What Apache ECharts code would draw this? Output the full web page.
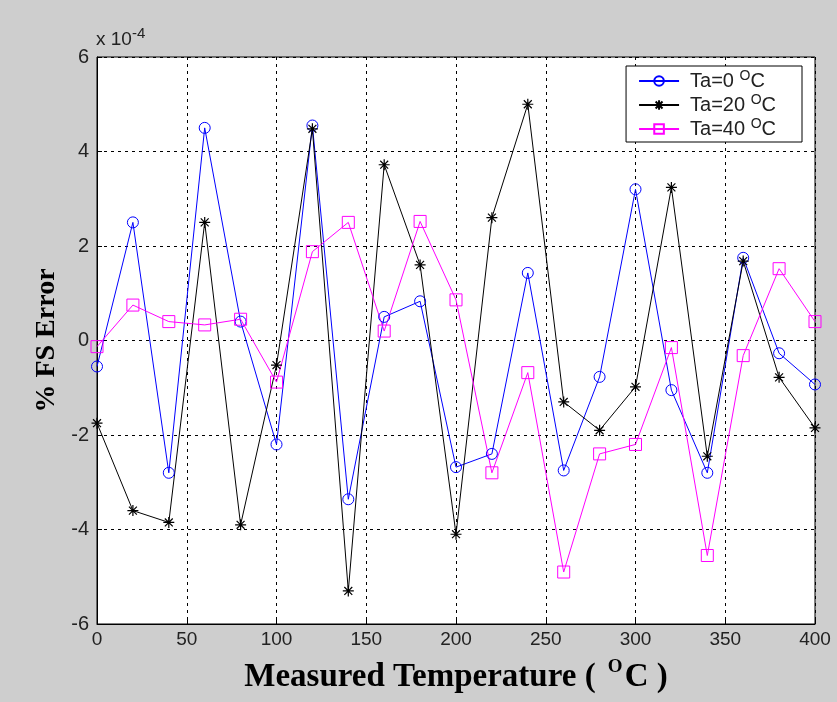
<!DOCTYPE html>
<html>
<head>
<meta charset="utf-8">
<script src="https://cdn.jsdelivr.net/npm/echarts@6/dist/echarts.min.js"></script>
<style>
  html, body { margin: 0; padding: 0; background: #cecece; }
  #chart { width: 837px; height: 702px; }
</style>
</head>
<body>
<div id="chart"></div>
<script>
// measured temperature (deg C)
var temps = [0, 20, 40, 60, 80, 100, 120, 140, 160, 180, 200, 220, 240, 260, 280, 300, 320, 340, 360, 380, 400];
// %FS error, in units of 1e-4
var ta0 = [-0.55, 2.5, -2.8, 4.5, 0.4, -2.2, 4.55, -3.36, 0.5, 0.83, -2.68, -2.4, 1.43, -2.75, -0.77, 3.2, -1.05, -2.8, 1.75, -0.27, -0.93];
var ta20 = [-1.75, -3.6, -3.85, 2.5, -3.9, -0.52, 4.48, -5.3, 3.72, 1.6, -4.1, 2.6, 5.0, -1.3, -1.9, -0.98, 3.24, -2.45, 1.68, -0.78, -1.85];
var ta40 = [-0.13, 0.75, 0.4, 0.33, 0.45, -0.88, 1.88, 2.5, 0.2, 2.52, 0.86, -2.8, -0.68, -4.9, -2.4, -2.2, -0.15, -4.55, -0.32, 1.52, 0.4];
var legendNames = ['Ta=0', 'Ta=20', 'Ta=40'];

var tickFont = "'Liberation Sans', Arial, sans-serif";
var titleFont = "'Liberation Serif', 'Times New Roman', serif";
var star = 'path://M0,-5L0,5M-5,0L5,0M-3.6,-3.6L3.6,3.6M-3.6,3.6L3.6,-3.6';

function pairs(vals) {
    return temps.map(function (t, i) { return [t, vals[i]]; });
}

var myChart = echarts.init(document.getElementById('chart'));
myChart.setOption({
    backgroundColor: '#cecece',
    animation: false,
    grid: {
        left: 97, right: 22, top: 57, bottom: 78,
        show: true, backgroundColor: '#ffffff', borderColor: '#000', borderWidth: 1
    },
    legend: {
        right: 35, top: 66,
        orient: 'vertical',
        backgroundColor: '#fff',
        borderColor: '#000', borderWidth: 1,
        padding: [3, 26, 3, 12],
        itemGap: 2,
        itemWidth: 40, itemHeight: 12,
        data: legendNames,
        formatter: function (name) { return '{a|' + name + ' }{s|O}{a|C}'; },
        textStyle: {
            padding: [0, 0, 0, 6],
            rich: {
                a: { fontFamily: tickFont, fontSize: 20, color: '#222', lineHeight: 22 },
                s: { fontFamily: tickFont, fontSize: 14, color: '#222', padding: [0, 0, 10, 0] }
            }
        }
    },
    xAxis: {
        type: 'value', min: 0, max: 400, interval: 50,
        name: '{a|Measured Temperature ( }{s|O}{a|C )}',
        nameLocation: 'middle', nameGap: 34,
        nameTextStyle: {
            rich: {
                a: { fontFamily: titleFont, fontWeight: 'bold', fontSize: 33, color: '#000' },
                s: { fontFamily: titleFont, fontWeight: 'bold', fontSize: 19, color: '#000', padding: [0, 2, 19, 4] }
            }
        },
        axisLine: { onZero: false, lineStyle: { color: '#000' } },
        axisTick: { inside: true, length: 5, lineStyle: { color: '#000' } },
        axisLabel: { fontFamily: tickFont, fontSize: 19, color: '#222', margin: 6 },
        splitLine: { show: true, lineStyle: { color: '#000', type: [3, 4] } }
    },
    yAxis: {
        type: 'value', min: -6, max: 6, interval: 2,
        name: '% FS Error',
        nameLocation: 'middle', nameGap: 34,
        nameTextStyle: { fontFamily: titleFont, fontWeight: 'bold', fontSize: 28, color: '#000' },
        axisLine: { onZero: false, lineStyle: { color: '#000' } },
        axisTick: { inside: true, length: 5, lineStyle: { color: '#000' } },
        axisLabel: { fontFamily: tickFont, fontSize: 20, color: '#222', margin: 8 },
        splitLine: { show: true, lineStyle: { color: '#000', type: [3, 4] } }
    },
    graphic: [{
        type: 'text', left: 96, top: 26,
        style: {
            text: '{a|x 10}{s|-4}',
            rich: {
                a: { fontFamily: tickFont, fontSize: 19, fill: '#222' },
                s: { fontFamily: tickFont, fontSize: 15, fill: '#222', padding: [0, 0, 12, 0] }
            }
        }
    }],
    series: [{
        name: 'Ta=0', type: 'line', data: pairs(ta0),
        symbol: 'circle', symbolSize: 11,
        itemStyle: { color: 'rgba(0,0,0,0)', borderColor: '#0000ff', borderWidth: 1 },
        lineStyle: { color: '#0000ff', width: 1 }
    }, {
        name: 'Ta=20', type: 'line', data: pairs(ta20),
        symbol: star, symbolSize: 11,
        itemStyle: { color: 'rgba(0,0,0,0)', borderColor: '#000', borderWidth: 1.2 },
        lineStyle: { color: '#000', width: 1 }
    }, {
        name: 'Ta=40', type: 'line', data: pairs(ta40),
        symbol: 'rect', symbolSize: 12,
        itemStyle: { color: 'rgba(0,0,0,0)', borderColor: '#ff00ff', borderWidth: 1 },
        lineStyle: { color: '#ff00ff', width: 1 }
    }]
});
</script>
</body>
</html>
